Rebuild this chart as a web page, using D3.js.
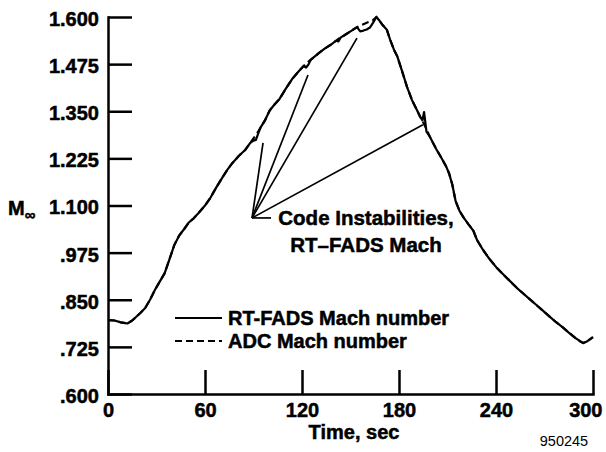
<!DOCTYPE html>
<html>
<head>
<meta charset="utf-8">
<script src="https://cdn.jsdelivr.net/npm/d3@7"></script>
<style>
body { margin: 0; background: #fff; }
svg { display: block; background: #fff; }
text { font-family: "Liberation Sans", Arial, Helvetica, sans-serif; fill: #000; }
.axis path, .axis line { stroke: #000; stroke-width: 2.5; }
.axis text, .lbl { font-size: 20px; font-weight: bold; stroke: #000; stroke-width: 0.5px; }
</style>
</head>
<body>
<svg id="chart"></svg>
<script>
// time, sec
var time = [0, 4, 8, 12, 15, 17, 20, 23, 26, 29, 32, 35, 38, 41, 44, 47, 50, 53, 56, 60,
  63, 67, 71, 74, 77, 81, 85, 88, 90, 91.5, 93, 94.5, 97, 100, 103, 106, 110, 114, 118,
  121, 122.5, 124, 125.5, 130, 134, 138, 141, 142.5, 144, 146, 150, 154, 156, 158, 160,
  162, 164, 166, 168, 170, 172.5, 174.5, 177, 179, 182, 185, 188, 191, 193, 194.5, 195.5,
  197, 199, 203, 206, 209, 211, 213, 215, 217.5, 220, 223, 226, 228.3, 232, 236, 240.6,
  245, 249, 253, 257, 261, 265, 269, 273, 277, 281.5, 285, 289, 292, 294, 296.5, 300];

// ADC Mach number
var adcMach = [.796, .795, .790, .787, .795, .803, .815, .828, .850, .876, .898, .920, .957,
  .995, 1.020, 1.037, 1.055, 1.066, 1.080, 1.100,
  1.118, 1.148, 1.176, 1.196, 1.213, 1.232, 1.248, 1.266, 1.278, 1.287, 1.297, 1.308, 1.325,
  1.352, 1.368, 1.382, 1.410, 1.436, 1.456,
  1.470, 1.476, 1.482, 1.487, 1.503, 1.516, 1.527, 1.537, 1.542, 1.546, 1.551, 1.562, 1.573,
  1.577, 1.581, 1.585,
  1.588, 1.592, 1.600, 1.590, 1.578, 1.566, 1.540, 1.512, 1.495, 1.455, 1.414, 1.380, 1.354,
  1.336, 1.324, 1.316,
  1.302, 1.283, 1.250, 1.228, 1.205, 1.185, 1.155, 1.112, 1.085, 1.068, 1.050, 1.033, 1.008,
  .982, .958, .934,
  .915, .898, .881, .866, .851, .836, .821, .806, .791, .776, .763, .749, .740, .735, .740, .751];

// RT-FADS Mach number (with the code instabilities)
var fadsMach = [.796, .795, .790, .787, .795, .803, .815, .828, .850, .876, .898, .920, .957,
  .995, 1.020, 1.037, 1.055, 1.066, 1.080, 1.100,
  1.118, 1.148, 1.176, 1.196, 1.213, 1.232, 1.248, 1.266, 1.272, 1.274, 1.292, 1.308, 1.325,
  1.352, 1.368, 1.382, 1.410, 1.436, 1.456,
  1.470, 1.466, 1.474, 1.487, 1.503, 1.516, 1.527, 1.537, 1.535, 1.546, 1.551, 1.562, 1.573,
  1.562, 1.564, 1.567,
  1.572, 1.585, 1.600, 1.590, 1.578, 1.566, 1.540, 1.512, 1.495, 1.455, 1.414, 1.380, 1.354,
  1.336, 1.326, 1.348,
  1.296, 1.283, 1.250, 1.228, 1.205, 1.185, 1.155, 1.112, 1.085, 1.068, 1.050, 1.033, 1.008,
  .982, .958, .934,
  .915, .898, .881, .866, .851, .836, .821, .806, .791, .776, .763, .749, .740, .735, .740, .751];

var xTicks = [0, 60, 120, 180, 240, 300];
var yTicks = [0.6, 0.725, 0.85, 0.975, 1.1, 1.225, 1.35, 1.475, 1.6];
var yTickLabels = [".600", ".725", ".850", ".975", "1.100", "1.225", "1.350", "1.475", "1.600"];

// annotation leader lines [time, Mach]
var leaderOrigin = [89.1, 1.067];
var leaderTargets = [[95.9, 1.266], [123.7, 1.446], [154.0, 1.544], [194.8, 1.314]];
var annotation = ["Code Instabilities,", "RT\u2013FADS Mach"];

var legendItems = [
  {name: "RT-FADS Mach number", dash: null},
  {name: "ADC Mach number", dash: "7,4"}
];

var width = 606, height = 452;
var svg = d3.select("#chart").attr("width", width).attr("height", height);

var x = d3.scaleLinear().domain([0, 300]).range([108, 593]);
var y = d3.scaleLinear().domain([0.6, 1.6]).range([394, 17]);

// axes
var xAxis = svg.append("g")
    .attr("class", "axis")
    .attr("transform", "translate(0," + y(0.6) + ")")
    .call(d3.axisBottom(x).tickValues(xTicks).tickSize(-24).tickSizeOuter(0).tickPadding(9)
        .tickFormat(d3.format("d")));
// last label sits a little left so it stays in the picture
xAxis.selectAll(".tick text")
    .filter(function(d) { return d === 300; })
    .attr("text-anchor", "end")
    .attr("x", 9);

svg.append("g")
    .attr("class", "axis")
    .attr("transform", "translate(" + x(0) + ",0)")
    .call(d3.axisLeft(y).tickValues(yTicks).tickSize(-24).tickSizeOuter(0).tickPadding(9)
        .tickFormat(function(d, i) { return yTickLabels[i]; }))
    .selectAll("text").attr("dy", "0.42em");

svg.selectAll(".axis .domain").attr("stroke-linecap", "square");

// data lines
var line = d3.line()
    .x(function(d) { return x(d[0]); })
    .y(function(d) { return y(d[1]); });

svg.append("path")
    .datum(time.map(function(t, i) { return [t, adcMach[i]]; }))
    .attr("fill", "none")
    .attr("stroke", "#000")
    .attr("stroke-width", 2.2)
    .attr("stroke-dasharray", "7,4")
    .attr("d", line);

svg.append("path")
    .datum(time.map(function(t, i) { return [t, fadsMach[i]]; }))
    .attr("fill", "none")
    .attr("stroke", "#000")
    .attr("stroke-width", 2.2)
    .attr("stroke-linejoin", "round")
    .attr("d", line);

// annotation
var ox = x(leaderOrigin[0]), oy = y(leaderOrigin[1]);
svg.selectAll("line.leader")
    .data(leaderTargets)
  .enter().append("line")
    .attr("class", "leader")
    .attr("x1", ox).attr("y1", oy)
    .attr("x2", function(d) { return x(d[0]); })
    .attr("y2", function(d) { return y(d[1]); })
    .attr("stroke", "#000")
    .attr("stroke-width", 1.7);

svg.append("line")
    .attr("x1", ox).attr("y1", oy)
    .attr("x2", ox + 19).attr("y2", oy)
    .attr("stroke", "#000")
    .attr("stroke-width", 1.7);

svg.selectAll("text.note")
    .data(annotation)
  .enter().append("text")
    .attr("class", "note lbl")
    .attr("x", 366)
    .attr("y", function(d, i) { return oy + 7 + i * 27; })
    .attr("text-anchor", "middle")
    .style("font-size", "20.5px")
    .text(function(d) { return d; });

// legend
var leg = svg.selectAll("g.legend")
    .data(legendItems)
  .enter().append("g")
    .attr("class", "legend")
    .attr("transform", function(d, i) { return "translate(175," + (318 + i * 23) + ")"; });

leg.append("line")
    .attr("x1", 0).attr("x2", 47)
    .attr("stroke", "#000")
    .attr("stroke-width", 2)
    .attr("stroke-dasharray", function(d) { return d.dash; });

leg.append("text")
    .attr("class", "lbl")
    .attr("x", 53)
    .attr("y", 7)
    .text(function(d) { return d.name; });

// axis titles
var ml = svg.append("text").attr("class", "lbl").attr("x", 8).attr("y", 215);
ml.append("tspan").text("M");
ml.append("tspan").attr("dy", 5).attr("font-size", 15).text("\u221e");

svg.append("text")
    .attr("class", "lbl")
    .attr("x", 354)
    .attr("y", 439)
    .attr("text-anchor", "middle")
    .text("Time, sec");

svg.append("text")
    .attr("x", 564)
    .attr("y", 446)
    .attr("text-anchor", "middle")
    .attr("font-size", 14.5)
    .text("950245");
</script>
</body>
</html>
